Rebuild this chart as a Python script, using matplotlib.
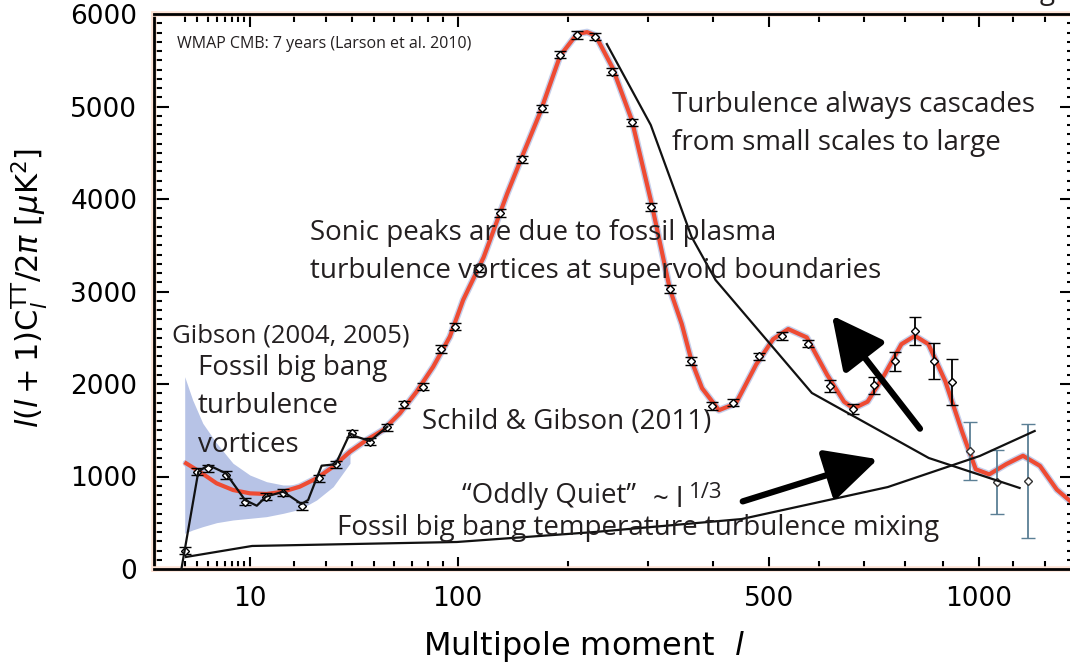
import numpy as np
import matplotlib.pyplot as plt
from matplotlib import patheffects as pe
from matplotlib.ticker import FixedLocator, MultipleLocator

plt.rcParams['mathtext.fontset'] = 'dejavusans'

# best-fit model curve (multipole l, l(l+1)C_l/2pi in uK^2)
model_l = [2.1, 3.2, 5.0, 7.2, 10, 13.3, 17.2, 21.7, 26.9, 32.7, 39.3, 46.5, 54.5,
           63.3, 72.9, 83.3, 94.5, 104.1, 120, 140, 155, 170.7, 191.7, 210.3, 221.9,
           232.0, 252.8, 277.9, 304.9, 331.9, 349.7, 365, 381.7, 409.6, 438.8, 475.4,
           507.2, 536.8, 574.5, 617.4, 654.6, 676, 708.6, 748.9, 790.6, 825.1, 860.2,
           905.4, 952.0, 990.3, 1029.5, 1079.8, 1131.5, 1184.8, 1239.4, 1300]
model_D = [1143, 1052, 926, 854, 818, 811, 836, 890, 980, 1106, 1268, 1394, 1503,
           1683, 1917, 2187, 2511, 2908, 3370, 4060, 4500, 4926, 5548, 5785, 5804,
           5767, 5420, 4854, 3959, 3020, 2648, 2247, 1954, 1717, 1790, 2211,
           2484, 2594, 2503, 2100, 1809, 1735, 1809, 2100, 2430, 2521, 2430,
           2028, 1480, 1078, 1023, 1133, 1224, 1115, 858, 690]

# cosmic variance band at low l
band_l = [2.0, 2.6, 3.5, 5.0, 7.2, 10, 13.3, 17.2, 21.7, 26.9, 32.7, 39.3]
band_hi = [2079, 1827, 1575, 1359, 1143, 1016, 944, 908, 908, 1016, 1178, 1320]
band_lo = [386, 422, 458, 501, 530, 548, 566, 602, 645, 746, 890, 1143]

# WMAP binned data points
pts_l = [2, 3, 4, 6.2, 9.1, 13.2, 17.2, 22.2, 27.8, 33.6, 40.0, 48.1, 56.6, 65.5,
         76.6, 88.2, 98.1, 116, 134, 153, 172.4, 191.7, 210.3, 230.8, 252.8, 277.9,
         304.9, 331.9, 364.5, 398.3, 434.5, 480.4, 525.4, 576.6, 624.6, 675.8,
         724.7, 773.9, 825.1, 875.3, 923.7, 972.9, 1051.3, 1147.4]
pts_D = [198, 1052, 1089, 1016, 727, 782, 825, 681, 980, 1132, 1467, 1376, 1532, 1780,
         1971, 2378, 2619, 3250, 3850, 4430, 4981, 5559, 5775, 5756, 5376, 4828,
         3914, 3025, 2247, 1761, 1798, 2298, 2521, 2437, 1980, 1729,
         1984, 2247, 2576, 2247, 2020, 1271, 943, 950]
pts_err = [40] * 34 + [65, 55, 92, 103, 151, 195, 249, 314, 346, 616]

# hand drawn lines
gib_l = [1.78, 3.08, 4.06, 6.2, 9.13, 11.3, 13.2, 17.2, 22.2, 24.2, 26.9, 28.6,
         33.6, 39.3, 42.1, 48.1, 56.6]
gib_D = [0, 1052, 1124, 1034, 746, 684, 782, 836, 703, 746, 980, 1117,
         1132, 1467, 1430, 1384, 1538]
casc_l = [245.7, 304, 365, 404, 585, 861, 1121]
casc_D = [5675, 4800, 3590, 3124, 1903, 1200, 876]
mix_l = [2.09, 10.4, 99.5, 231, 449, 757, 1002, 1168]
mix_D = [130, 249, 292, 400, 540, 886, 1222, 1492]

# arrows (tail, head)
arrow_up = ((838, 1517), (628, 2740))
arrow_right = ((451, 731), (733, 1187))

xticks_major = [10, 100, 500, 1000]
xticks_minor = [2, 3, 4, 5, 6, 7, 8, 9, 20, 30, 40, 50, 60, 70, 80, 90,
                200, 300, 400, 600, 700, 800, 900, 1100, 1200]

W, H = 1070, 670
fig = plt.figure(figsize=(W / 100, H / 100), dpi=100)
ax = fig.add_axes([154 / W, (H - 569) / H, 921 / W, 555 / H])


def fwd(x):
    return np.sign(x) * np.abs(x) ** 0.4


def inv(x):
    return np.sign(x) * np.abs(x) ** 2.5


ax.set_xscale('function', functions=(fwd, inv))
ax.set_xlim(0.5, 1300)
ax.set_ylim(0, 6000)

band_col = '#b7c3e6'
red = '#ee4b33'
ax.fill_between(band_l, band_lo, band_hi, color=band_col, lw=0, zorder=1)
ax.plot(model_l, model_D, color=band_col, lw=5, alpha=0.8,
        solid_capstyle='round', zorder=1.5)
ax.plot(model_l, model_D, color=red, lw=3, zorder=2)

n_dark = 41
ax.errorbar(pts_l[:n_dark], pts_D[:n_dark], yerr=pts_err[:n_dark], fmt='D', ms=4,
            mfc='white', mec='black', mew=1, ecolor='black', elinewidth=1.3,
            capsize=4, capthick=1.3, zorder=3)
ax.errorbar(pts_l[n_dark:], pts_D[n_dark:], yerr=pts_err[n_dark:], fmt='D', ms=4,
            mfc='white', mec='#333333', mew=1, ecolor='#5b7f95', elinewidth=1.3,
            capsize=5, capthick=1.3, zorder=3)

for xs, ys in [(gib_l, gib_D), (casc_l, casc_D), (mix_l, mix_D)]:
    ax.plot(xs, ys, color='#111111', lw=1.6, zorder=4, clip_on=False)

for tail, head in [arrow_up, arrow_right]:
    ax.annotate('', xy=head, xytext=tail,
                arrowprops=dict(arrowstyle='-|>,head_length=1.6,head_width=0.8',
                                mutation_scale=20, lw=4.5, color='black',
                                shrinkA=0, shrinkB=0), zorder=5)

# axes styling
ax.xaxis.set_major_locator(FixedLocator(xticks_major))
ax.xaxis.set_minor_locator(FixedLocator(xticks_minor))
ax.set_xticklabels([str(t) for t in xticks_major])
ax.yaxis.set_major_locator(MultipleLocator(1000))
ax.yaxis.set_minor_locator(MultipleLocator(100))
ax.tick_params(which='both', direction='in', top=True, right=True, width=1.5,
               labelsize=19, colors='black')
ax.tick_params(axis='y', which='major', length=11, pad=12)
ax.tick_params(axis='y', which='minor', length=6)
ax.tick_params(axis='x', which='major', length=9, pad=12)
ax.tick_params(axis='x', which='minor', length=5.5)
halo = [pe.withStroke(linewidth=4, foreground='#fde2d5')]
for s in ax.spines.values():
    s.set_linewidth(2)
    s.set_path_effects(halo)

ax.set_xlabel(r'Multipole moment  $\mathit{l}$', fontsize=23)
ax.xaxis.set_label_coords(0.467, -0.108)
ax.set_ylabel(r'$\mathit{l}(\mathit{l}+1)\mathrm{C}_{\mathit{l}}^{\mathrm{TT}}/2\pi\ [\mu\mathrm{K}^2]$',
              fontsize=22)
ax.yaxis.set_label_coords(-0.113, 0.506)

# annotations, placed in pixel positions (left, baseline)
fam = ['Open Sans', 'DejaVu Sans']
tc = '#231f20'


def put(x, y, s, size=20, **kw):
    fig.text(x / W, 1 - y / H, s, fontsize=size, family=fam, color=tc,
             va='baseline', ha='left', **kw)


put(177, 48, 'WMAP CMB: 7 years (Larson et al. 2010)', size=11.5)
put(672, 112, 'Turbulence always cascades')
put(672, 150, 'from small scales to large')
put(310, 240, 'Sonic peaks are due to fossil plasma')
put(310, 278, 'turbulence vortices at supervoid boundaries')
put(172, 342, 'Gibson (2004, 2005)', size=18.5)
put(198, 375, 'Fossil big bang')
put(198, 413, 'turbulence')
put(198, 452, 'vortices')
put(422, 429, 'Schild & Gibson (2011)')
put(462, 503, '\u201cOddly Quiet\u201d')
put(653, 507, '~ l')
put(689, 498, '1/3', size=16)
put(337, 535, 'Fossil big bang temperature turbulence mixing')
put(1040, -1, 'g')

fig.savefig('out.png', dpi=100)
